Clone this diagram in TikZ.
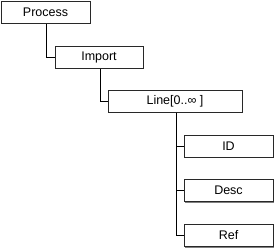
\documentclass[tikz,border=0pt]{standalone}
\usepackage{fontspec}
\setmainfont{Liberation Sans}
\usepackage{xcolor}
\usetikzlibrary{positioning, shadows}
\definecolor{boxline}{RGB}{40, 40, 40}
\definecolor{shadowgray}{RGB}{128, 128, 128}

\begin{document}
\begin{tikzpicture}[x=1pt, y=-1pt,
    element/.style={draw=boxline, line width=1pt, fill=white, minimum width=#1,
                    minimum height=22pt, inner sep=0pt, font=\fontsize{12.5}{14}\selectfont,
                    drop shadow={shadow xshift=1pt, shadow yshift=-1pt, fill=shadowgray, opacity=1}},
    element/.default=89pt,
    link/.style={draw=black, line width=1pt}
]
    \useasboundingbox (0,0) rectangle (275,249);
    \node[element] (process) at (45.5,12) {Process};
    \node[element=88pt] (import) at (99,57) {Import};
    \node[element=134pt] (line) at (175,101) {Line[0..∞ ]};
    \node[element] (id) at (228.5,146) {ID};
    \node[element] (desc) at (228.5,190.5) {Desc};
    \node[element] (ref) at (228.5,235.5) {Ref};

    \draw[link] ([xshift=1pt]process.south) |- (import.west);
    \draw[link] ([xshift=1pt]import.south) |- (line.west);
    \draw[link] ([xshift=1pt]line.south) |- (id.west);
    \draw[link] ([xshift=1pt]line.south) |- (desc.west);
    \draw[link] ([xshift=1pt]line.south) |- (ref.west);
\end{tikzpicture}
\end{document}
